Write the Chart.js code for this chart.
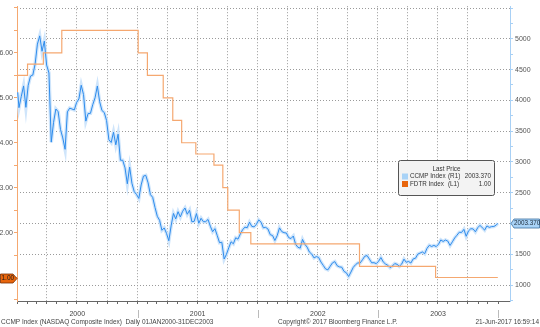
<!DOCTYPE html>
<html>
<head>
<meta charset="utf-8">
<script src="https://cdn.jsdelivr.net/npm/chart.js@4.4.1/dist/chart.umd.min.js"></script>
<style>
  html, body { margin: 0; padding: 0; background: #fff; }
  #wrap { width: 540px; height: 327px; }
</style>
</head>
<body>
<div id="wrap"><canvas id="chart" width="540" height="327"></canvas></div>
<script>
// NASDAQ Composite (CCMP) - first close, then weekly Friday closes, then last close
const ccmpFirst = { date: '2000-01-03', value: 4131 };
const ccmpWeekStart = '2000-01-07';
const ccmp2000 = [3882, 4064, 4235, 3887, 4244, 4395, 4411, 4590, 4914, 5048, 4798, 4963, 4573,
  4446, 3321, 3643, 3860, 3816, 3529, 3390, 3205, 3813, 3874, 3860, 3845, 3966,
  4024, 4246, 4095, 3663, 3787, 3789, 3930, 4042, 4234, 3978, 3835, 3803, 3673,
  3361, 3316, 3483, 3278, 3451, 3028, 3027, 2904, 2645, 2917, 2653, 2517, 2471];
const ccmp2001 = [2407, 2626, 2770, 2782, 2661, 2470, 2425, 2262, 2117, 2052, 1890, 1928, 1840,
  1720, 1961, 2163, 2075, 2192, 2107, 2199, 2252, 2150, 2215, 2028, 2035, 2161,
  2004, 2084, 2029, 2030, 2066, 1956, 1867, 1916, 1805, 1688, 1695, 1423, 1499,
  1605, 1703, 1671, 1768, 1746, 1828, 1898, 1941, 1931, 2021, 1953, 1945, 1987];
const ccmp2002 = [2059, 2022, 1930, 1937, 1911, 1818, 1805, 1724, 1802, 1929, 1868, 1851, 1845,
  1770, 1756, 1796, 1663, 1613, 1600, 1741, 1662, 1616, 1535, 1504, 1441, 1463,
  1448, 1374, 1319, 1262, 1247, 1306, 1361, 1381, 1315, 1295, 1291, 1222, 1200,
  1139, 1211, 1287, 1331, 1360, 1359, 1411, 1468, 1479, 1422, 1362, 1363, 1348];
const ccmp2003 = [1387, 1447, 1376, 1342, 1321, 1283, 1310, 1349, 1337, 1305, 1340, 1421, 1370,
  1383, 1358, 1425, 1435, 1502, 1520, 1538, 1510, 1596, 1646, 1627, 1644, 1625,
  1664, 1733, 1708, 1731, 1715, 1644, 1702, 1765, 1810, 1858, 1855, 1905, 1792,
  1880, 1915, 1912, 1865, 1932, 1970, 1930, 1893, 1960, 1937, 1949, 1951, 1973];
const ccmpLast = { date: '2003-12-31', value: 2003.37 };

// Fed funds target rate (FDTR) - change dates and new levels
const fdtrDates = ['2000-01-01', '2000-02-02', '2000-03-21', '2000-05-16', '2001-01-03', '2001-01-31',
  '2001-03-20', '2001-04-18', '2001-05-15', '2001-06-27', '2001-08-21', '2001-09-17', '2001-10-02',
  '2001-11-06', '2001-12-11', '2002-11-06', '2003-06-25', '2003-12-31'];
const fdtrValues = [5.5, 5.75, 6, 6.5, 6, 5.5, 5, 4.5, 4, 3.75, 3.5, 3, 2.5, 2, 1.75, 1.25, 1, 1];

const years = [2000, 2001, 2002, 2003];
const leftTicks = [1, 2, 3, 4, 5, 6];
const rightTicks = [1000, 1500, 2000, 2500, 3000, 3500, 4000, 4500, 5000];

const DAY = 86400000;
const origin = Date.UTC(2000, 0, 1);
function dayOf(s) {
  const p = s.split('-');
  return (Date.UTC(+p[0], +p[1] - 1, +p[2]) - origin) / DAY;
}

// build the CCMP points
let ccmpPoints = [{ x: dayOf(ccmpFirst.date), y: ccmpFirst.value }];
const weekly = ccmp2000.concat(ccmp2001, ccmp2002, ccmp2003);
let d0 = dayOf(ccmpWeekStart);
weekly.forEach((v, i) => ccmpPoints.push({ x: d0 + 7 * i, y: v }));
ccmpPoints.push({ x: dayOf(ccmpLast.date), y: ccmpLast.value });

let fdtrPoints = fdtrDates.map((d, i) => ({ x: dayOf(d), y: fdtrValues[i] }));

// month ticks for the x axis, quarters get a grid line
let monthTicks = [];
for (let y = 2000; y <= 2004; y++) {
  for (let m = 0; m < 12; m++) {
    if (y === 2004 && m > 0) break;
    monthTicks.push({ value: (Date.UTC(y, m, 1) - origin) / DAY, q: m % 3 === 0 });
  }
}
const quarterSet = new Set(monthTicks.filter(t => t.q).map(t => t.value));

const FONT = '"Liberation Sans", Arial, sans-serif';
const BLUE = '#2e8cec';
const BLUE_LIGHT = '#cfe5fb';
const ORANGE = '#f5a870';

const extras = {
  id: 'bbgExtras',
  afterDraw(chart) {
    const ctx = chart.ctx;
    const xs = chart.scales.x, yl = chart.scales.y, yr = chart.scales.y1;
    const area = chart.chartArea;
    ctx.save();

    // year labels and separators
    ctx.font = '7px ' + FONT;
    ctx.fillStyle = '#444';
    ctx.textAlign = 'center';
    ctx.textBaseline = 'middle';
    years.forEach(y => {
      const a = xs.getPixelForValue((Date.UTC(y, 0, 1) - origin) / DAY);
      const b = xs.getPixelForValue((Date.UTC(y + 1, 0, 1) - origin) / DAY);
      ctx.fillText(String(y), (a + b) / 2, 314);
      ctx.strokeStyle = '#bbb';
      ctx.lineWidth = 1;
      ctx.beginPath();
      ctx.moveTo(Math.round(b) + 0.5, 310);
      ctx.lineTo(Math.round(b) + 0.5, 318);
      ctx.stroke();
    });

    // footer
    ctx.font = '6.5px ' + FONT;
    ctx.fillStyle = '#444';
    ctx.textAlign = 'left';
    ctx.fillText('CCMP Index (NASDAQ Composite Index)  Daily 01JAN2000-31DEC2003', 1, 322);
    ctx.fillText('Copyright\u00A9 2017 Bloomberg Finance L.P.', 278, 322);
    ctx.textAlign = 'right';
    ctx.fillText('21-Jun-2017 16:59:14', 539, 322);

    // last value tag on the right axis
    let ty = Math.round(yr.getPixelForValue(ccmpLast.value));
    ctx.beginPath();
    ctx.moveTo(area.right + 1, ty + 0.5);
    ctx.lineTo(area.right + 4, ty - 4);
    ctx.lineTo(539.5, ty - 4);
    ctx.lineTo(539.5, ty + 5);
    ctx.lineTo(area.right + 4, ty + 5);
    ctx.closePath();
    ctx.fillStyle = '#a9d3f7';
    ctx.fill();
    ctx.strokeStyle = '#3b6f9e';
    ctx.lineWidth = 0.8;
    ctx.stroke();
    ctx.fillStyle = '#1d2b3a';
    ctx.font = '6.3px ' + FONT;
    ctx.textAlign = 'left';
    ctx.fillText('2003.370', area.right + 4, ty + 0.5);

    // last value tag on the left axis
    ty = Math.round(yl.getPixelForValue(fdtrValues[fdtrValues.length - 1]));
    ctx.beginPath();
    ctx.moveTo(0.5, ty - 4);
    ctx.lineTo(area.left - 4, ty - 4);
    ctx.lineTo(area.left, ty + 0.5);
    ctx.lineTo(area.left - 4, ty + 5);
    ctx.lineTo(0.5, ty + 5);
    ctx.closePath();
    ctx.fillStyle = '#e8650c';
    ctx.fill();
    ctx.strokeStyle = '#7a2e00';
    ctx.stroke();
    ctx.fillStyle = '#1a1a1a';
    ctx.font = '6.5px ' + FONT;
    ctx.textAlign = 'left';
    ctx.fillText('1.00', 1.5, ty + 0.5);

    // legend box
    const bx = 398.5, by = 160.5, bw = 96, bh = 35;
    ctx.beginPath();
    ctx.roundRect(bx, by, bw, bh, 2);
    ctx.fillStyle = '#f3f3f3';
    ctx.fill();
    ctx.strokeStyle = '#555';
    ctx.lineWidth = 1;
    ctx.stroke();
    ctx.font = '6.3px ' + FONT;
    ctx.fillStyle = '#333';
    ctx.textAlign = 'center';
    ctx.fillText('Last Price', bx + 48, 169);
    const rows = [
      { c: '#a9d3f7', name: 'CCMP Index', ax: '(R1)', val: '2003.370', y: 176.5 },
      { c: '#e8650c', name: 'FDTR Index', ax: '(L1)', val: '1.00', y: 184 }
    ];
    rows.forEach(r => {
      ctx.fillStyle = r.c;
      ctx.fillRect(402, r.y - 3, 6, 6);
      ctx.fillStyle = '#333';
      ctx.textAlign = 'left';
      ctx.fillText(r.name, 410, r.y);
      ctx.fillText(r.ax, 448, r.y);
      ctx.textAlign = 'right';
      ctx.fillText(r.val, 491, r.y);
    });
    ctx.restore();
  }
};

new Chart(document.getElementById('chart'), {
  type: 'line',
  data: {
    datasets: [
      {
        label: 'FDTR Index',
        data: fdtrPoints,
        yAxisID: 'y',
        borderColor: ORANGE,
        borderWidth: 1.2,
        stepped: 'before',
        pointRadius: 0,
        order: 0
      },
      {
        label: 'CCMP Index',
        data: ccmpPoints,
        yAxisID: 'y1',
        borderColor: BLUE,
        borderWidth: 1,
        pointRadius: 0,
        tension: 0,
        order: 1
      },
      {
        label: 'CCMP band',
        data: ccmpPoints,
        yAxisID: 'y1',
        borderColor: BLUE_LIGHT,
        borderWidth: 3.5,
        pointRadius: 0,
        tension: 0,
        order: 2
      }
    ]
  },
  options: {
    responsive: false,
    animation: false,
    devicePixelRatio: 1,
    layout: { padding: 0 },
    plugins: { legend: { display: false }, tooltip: { enabled: false } },
    scales: {
      x: {
        type: 'linear',
        min: 0,
        max: 1497,
        afterBuildTicks: s => { s.ticks = monthTicks.map(t => ({ value: t.value })); },
        afterFit: s => { s.height = 26; },
        ticks: { display: false },
        grid: {
          color: c => (c.tick && quarterSet.has(c.tick.value) && c.tick.value > 0 && c.tick.value < 1461) ? '#9a9a9a' : 'rgba(0,0,0,0)',
          tickColor: '#666',
          tickLength: 3,
          lineWidth: 1
        },
        border: { color: '#666', width: 1, dash: [1, 2] }
      },
      y: {
        position: 'left',
        min: 0.477,
        max: 7.04,
        afterBuildTicks: s => {
          let t = [];
          for (let v = 0.5; v <= 7; v += 0.5) t.push({ value: v });
          s.ticks = t;
        },
        afterFit: s => { s.width = 17; },
        ticks: {
          font: { family: FONT, size: 7 },
          color: '#555',
          padding: 1,
          autoSkip: false,
          callback: v => leftTicks.includes(v) ? v.toFixed(2) : ''
        },
        grid: { drawOnChartArea: false, tickColor: ORANGE, tickLength: 3 },
        border: { color: ORANGE, width: 1 }
      },
      y1: {
        position: 'right',
        min: 741,
        max: 5530,
        afterBuildTicks: s => {
          let t = [];
          for (let v = 750; v <= 5500; v += 250) t.push({ value: v });
          s.ticks = t;
        },
        afterFit: s => { s.width = 30; },
        ticks: {
          font: { family: FONT, size: 7 },
          color: '#555',
          padding: 2,
          autoSkip: false,
          callback: v => rightTicks.includes(v) ? String(v) : ''
        },
        grid: {
          color: c => (c.tick && c.tick.value % 500 === 0) ? '#9a9a9a' : 'rgba(0,0,0,0)',
          tickColor: '#a8d0f5',
          tickLength: 3,
          lineWidth: 1
        },
        border: { color: '#a8d0f5', width: 1, dash: [1, 2] }
      }
    }
  },
  plugins: [extras]
});
</script>
</body>
</html>
